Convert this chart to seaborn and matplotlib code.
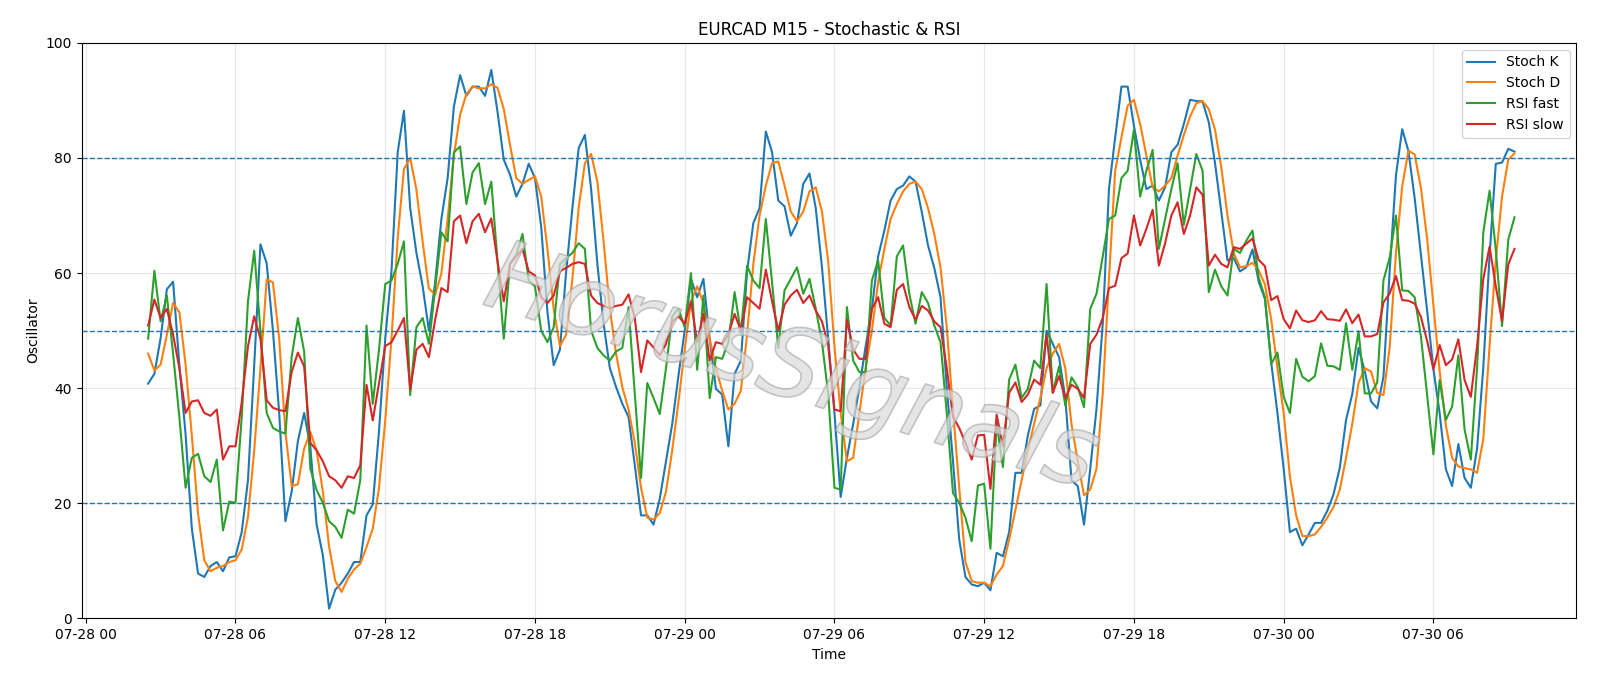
#EURCAD M15 - Stochastic & RSI oscillator chart
import matplotlib
matplotlib.use("Agg")
import matplotlib.pyplot as plt
import matplotlib.patheffects as pe
import matplotlib.dates as mdates
import seaborn as sns
import pandas as pd

#Data: 15 minute bars from 07-28 02:30 to 07-30 09:15
start_time = "2025-07-28 02:30"
n_bars = 220

stoch_k = [
    40.8, 42.5, 48.7, 57.2, 58.5, 44.0, 32.0, 15.6, 7.8, 7.2, 9.1, 9.8, 8.2, 10.6, 10.8, 15.0, 24.0, 44.0, 65.0, 61.7,
    50.0, 35.7, 16.9, 22.0, 30.8, 35.7, 29.8, 16.3, 11.0, 1.7, 5.0, 6.2, 7.8, 9.8, 9.8, 17.9, 19.8, 32.5, 48.6, 60.3,
    81.0, 88.2, 71.3, 63.5, 57.7, 50.0, 58.4, 69.4, 76.5, 88.9, 94.4, 90.8, 92.4, 92.4, 90.8, 95.3, 88.0, 79.7, 77.1, 73.3,
    75.5, 79.0, 76.5, 68.0, 53.2, 44.0, 46.7, 60.3, 71.3, 81.7, 84.0, 74.6, 61.6, 51.2, 43.5, 40.2, 37.3, 35.0, 26.6, 17.9,
    17.9, 16.3, 20.8, 27.3, 33.8, 42.2, 50.0, 59.0, 55.8, 59.0, 48.6, 39.9, 38.9, 29.9, 42.5, 44.8, 60.3, 68.7, 71.3, 84.6,
    81.0, 72.6, 71.6, 66.5, 68.7, 75.5, 77.3, 71.3, 61.0, 48.6, 35.7, 21.1, 27.9, 33.8, 40.2, 47.3, 53.8, 62.9, 67.4, 72.6,
    74.6, 75.2, 76.8, 75.9, 70.6, 64.8, 60.9, 55.8, 40.2, 27.3, 13.7, 7.2, 5.9, 5.6, 6.2, 4.9, 11.4, 10.8, 15.0, 25.3,
    25.3, 31.8, 36.4, 37.0, 50.0, 47.7, 45.4, 38.3, 24.0, 23.0, 16.3, 26.0, 36.4, 51.2, 74.6, 83.6, 92.4, 92.4, 85.6, 79.7,
    74.6, 75.2, 72.6, 74.9, 81.0, 82.3, 85.9, 90.1, 89.9, 89.8, 86.2, 79.1, 70.7, 62.2, 62.6, 60.3, 61.0, 64.1, 58.5, 55.5,
    44.5, 35.7, 26.0, 15.0, 15.6, 12.7, 14.6, 16.6, 16.6, 18.7, 21.6, 26.2, 34.5, 39.0, 47.0, 43.0, 37.7, 36.5, 42.0, 60.5,
    77.0, 85.0, 81.2, 73.0, 63.2, 53.4, 43.3, 35.7, 25.9, 23.0, 30.3, 24.4, 22.7, 29.5, 43.6, 63.0, 79.0, 79.2, 81.6, 81.1,
]

stoch_d = [
    46.0, 43.1, 44.1, 49.3, 54.8, 53.2, 44.1, 31.8, 18.2, 10.1, 8.2, 8.8, 9.1, 9.8, 10.1, 12.0, 17.6, 29.2, 43.5, 58.9,
    58.4, 48.6, 32.4, 23.0, 23.3, 29.5, 32.4, 29.2, 22.0, 12.5, 6.5, 4.6, 6.9, 8.5, 9.5, 12.4, 15.6, 22.7, 34.4, 48.6,
    66.1, 78.1, 80.0, 74.5, 65.4, 57.3, 56.3, 59.9, 69.4, 80.4, 87.5, 91.1, 92.4, 92.1, 92.1, 92.8, 92.2, 88.5, 82.3, 76.5,
    75.5, 76.2, 76.8, 73.3, 64.2, 53.8, 47.3, 49.3, 59.0, 71.3, 79.1, 80.7, 75.9, 65.5, 53.8, 46.0, 40.2, 36.3, 30.5, 22.7,
    17.5, 17.2, 18.3, 22.0, 29.2, 37.6, 46.7, 55.1, 57.7, 54.8, 48.6, 43.5, 39.6, 36.3, 37.3, 39.6, 49.3, 61.6, 70.0, 75.2,
    79.1, 79.4, 75.2, 70.7, 69.0, 70.7, 74.2, 74.9, 70.7, 62.0, 47.3, 35.7, 27.3, 27.9, 35.7, 43.5, 50.0, 58.4, 64.2, 69.4,
    72.0, 74.2, 75.5, 75.9, 74.6, 71.3, 66.8, 61.0, 50.6, 36.3, 22.7, 9.8, 6.5, 6.2, 6.2, 5.6, 7.6, 9.1, 13.7, 18.8,
    24.0, 29.2, 33.8, 38.3, 43.5, 46.0, 47.7, 43.5, 33.7, 27.3, 21.4, 22.4, 26.0, 39.1, 59.0, 77.8, 83.6, 89.1, 90.1, 85.9,
    80.4, 74.9, 74.2, 75.2, 76.5, 80.4, 84.0, 87.2, 89.5, 89.9, 88.5, 84.9, 78.4, 70.0, 63.5, 61.0, 61.2, 61.8, 60.5, 58.0,
    52.0, 43.5, 35.7, 24.7, 17.9, 14.3, 14.3, 14.6, 15.9, 17.5, 19.4, 22.4, 27.9, 33.8, 40.9, 43.5, 42.9, 39.2, 38.8, 47.2,
    63.5, 75.1, 81.3, 80.6, 74.8, 65.9, 54.4, 43.0, 33.5, 27.9, 26.4, 26.1, 25.9, 25.3, 31.2, 47.3, 62.2, 73.3, 79.7, 80.8,
]

rsi_fast = [
    48.6, 60.4, 51.6, 56.1, 46.0, 35.0, 22.7, 27.9, 28.6, 24.7, 23.7, 27.6, 15.3, 20.3, 20.1, 35.0, 55.1, 63.9, 50.0, 35.7,
    33.1, 32.5, 32.1, 45.4, 52.2, 46.4, 26.0, 22.3, 20.1, 16.9, 15.9, 14.0, 18.9, 18.2, 24.0, 50.9, 37.3, 46.7, 58.1, 58.7,
    61.6, 65.5, 38.8, 50.6, 52.2, 47.7, 57.3, 67.1, 65.5, 81.0, 82.0, 72.0, 77.5, 79.1, 72.0, 75.9, 62.0, 48.6, 61.6, 63.2,
    66.8, 58.7, 57.7, 50.0, 48.0, 50.6, 61.6, 62.6, 63.5, 65.2, 64.2, 50.0, 47.0, 45.7, 44.8, 46.4, 47.0, 54.1, 39.0, 24.4,
    40.9, 38.3, 35.5, 43.5, 52.5, 53.8, 50.6, 60.0, 43.2, 56.1, 38.3, 45.4, 45.1, 48.0, 56.7, 49.6, 61.3, 58.7, 57.4, 69.4,
    58.4, 47.0, 57.0, 59.0, 61.0, 56.4, 59.0, 53.8, 48.0, 39.0, 22.7, 22.4, 54.1, 44.8, 42.8, 42.8, 58.7, 62.2, 52.2, 50.9,
    62.9, 64.8, 56.4, 51.2, 56.7, 54.8, 50.9, 48.0, 35.7, 21.8, 20.1, 17.5, 13.4, 23.1, 23.4, 12.1, 34.0, 26.3, 41.5, 44.1,
    38.3, 39.9, 44.8, 43.5, 58.1, 39.2, 43.8, 37.0, 41.9, 40.2, 36.7, 53.8, 56.4, 62.9, 69.4, 70.0, 76.5, 77.8, 84.9, 73.3,
    77.8, 81.4, 64.2, 69.4, 74.6, 79.1, 68.4, 74.6, 80.7, 77.8, 56.7, 60.6, 57.7, 56.1, 64.2, 63.5, 65.6, 67.4, 59.2, 55.8,
    44.2, 46.2, 38.5, 35.7, 45.1, 42.0, 41.2, 42.1, 47.8, 43.9, 43.8, 43.2, 51.3, 43.2, 49.9, 39.1, 39.1, 41.0, 58.8, 62.7,
    70.0, 57.0, 56.9, 55.8, 49.0, 38.7, 28.5, 41.4, 34.5, 36.8, 45.7, 32.8, 27.6, 43.5, 67.1, 74.3, 64.1, 50.8, 65.8, 69.7,
]

rsi_slow = [
    50.9, 55.4, 52.2, 53.8, 49.3, 43.5, 35.7, 37.7, 37.9, 35.7, 35.2, 36.3, 27.6, 29.9, 29.9, 37.6, 47.3, 52.5, 48.6, 37.9,
    36.6, 36.2, 36.0, 42.8, 46.2, 43.8, 30.5, 29.2, 27.3, 24.7, 24.0, 22.7, 24.7, 24.4, 26.6, 40.6, 34.4, 40.9, 47.3, 48.0,
    50.0, 52.2, 39.8, 46.7, 47.7, 45.4, 51.9, 57.4, 56.7, 69.0, 70.0, 65.2, 69.0, 70.3, 67.1, 69.5, 62.0, 55.1, 61.6, 62.9,
    64.2, 60.3, 59.6, 55.8, 54.8, 56.1, 60.3, 60.9, 61.6, 61.9, 61.6, 56.1, 54.8, 54.3, 53.9, 54.3, 54.5, 56.3, 52.2, 42.8,
    48.3, 47.1, 45.7, 47.7, 51.6, 52.5, 51.2, 55.1, 48.0, 52.9, 44.8, 48.0, 47.7, 49.3, 52.9, 50.0, 55.8, 54.8, 53.8, 60.6,
    55.1, 50.0, 54.5, 56.1, 57.1, 54.8, 56.1, 53.5, 51.6, 47.5, 36.3, 36.0, 51.9, 46.7, 45.1, 45.1, 53.8, 55.8, 51.2, 50.6,
    57.1, 58.1, 54.1, 51.9, 54.3, 53.5, 51.6, 50.6, 43.5, 35.0, 33.1, 30.5, 27.6, 31.8, 31.9, 22.5, 35.4, 29.9, 39.2, 41.0,
    37.6, 38.9, 41.5, 40.6, 49.3, 39.2, 42.1, 38.3, 40.6, 39.9, 38.3, 47.7, 49.3, 52.2, 57.4, 57.8, 62.6, 63.4, 70.0, 64.8,
    67.7, 71.0, 61.3, 65.2, 70.0, 72.3, 66.8, 70.0, 74.9, 73.6, 61.3, 63.2, 61.6, 61.0, 64.5, 64.2, 65.1, 66.0, 62.3, 61.2,
    55.3, 56.0, 52.0, 50.4, 53.5, 51.8, 51.5, 51.8, 53.4, 52.0, 51.9, 51.7, 53.7, 51.3, 52.8, 49.0, 49.0, 49.4, 54.9, 56.5,
    59.5, 55.3, 55.2, 54.7, 52.4, 48.2, 43.3, 47.5, 44.0, 45.0, 48.5, 41.4, 38.5, 47.3, 59.0, 64.6, 57.7, 51.7, 61.5, 64.2,
]

levels = [80, 50, 20]
watermark = "HorusSignals"
x_range = ("2025-07-27 23:50", "2025-07-30 11:44")

times = pd.date_range(start_time, periods=n_bars, freq="15min")
df = pd.DataFrame({
    "Time": times,
    "Stoch K": stoch_k,
    "Stoch D": stoch_d,
    "RSI fast": rsi_fast,
    "RSI slow": rsi_slow,
})

#Plot
fig, ax = plt.subplots(figsize=(16, 6.86), dpi=100)
fig.subplots_adjust(left=0.051, right=0.9853, top=0.9375, bottom=0.0985)

for col in ["Stoch K", "Stoch D", "RSI fast", "RSI slow"]:
    sns.lineplot(data=df, x="Time", y=col, ax=ax, label=col, linewidth=1.5)

for lvl in levels:
    ax.axhline(lvl, linestyle="--", linewidth=1, color="C0")

ax.set_ylim(0, 100)
ax.set_xlim(pd.Timestamp(x_range[0]), pd.Timestamp(x_range[1]))
ax.xaxis.set_major_locator(mdates.HourLocator(byhour=[0, 6, 12, 18]))
ax.xaxis.set_major_formatter(mdates.DateFormatter("%m-%d %H"))
ax.grid(True, alpha=0.3)
ax.set_title("EURCAD M15 - Stochastic & RSI")
ax.set_xlabel("Time")
ax.set_ylabel("Oscillator")
ax.legend(loc="upper right")

#Watermark
ax.text(0.475, 0.43, watermark, transform=ax.transAxes, fontsize=70,
        fontstyle="italic", fontweight="light", color="#dcdcdc", alpha=0.3, rotation=-17,
        ha="center", va="center", zorder=10,
        path_effects=[pe.Stroke(linewidth=1.2, foreground="#9a9a9a", alpha=0.6), pe.Normal()])

plt.savefig("out.png", dpi=100)
